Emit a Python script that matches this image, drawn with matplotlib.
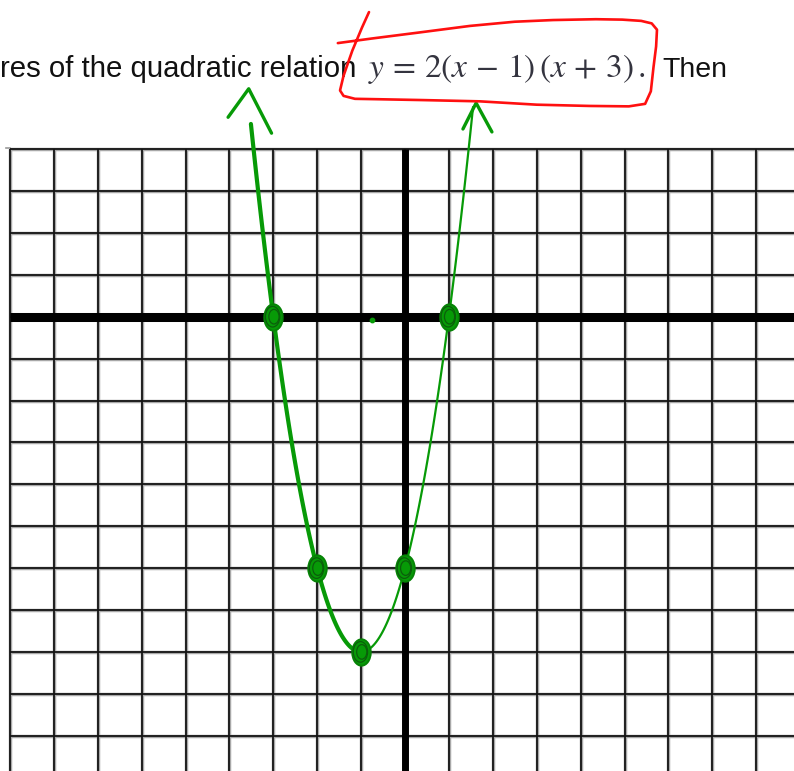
import numpy as np
import matplotlib
matplotlib.use('Agg')
import matplotlib.pyplot as plt
from matplotlib.path import Path
from matplotlib.transforms import Affine2D

plt.rcParams['mathtext.fontset'] = 'stix'

# grid extent, in graph units (one square = one unit)
grid_x = np.arange(-9, 9)
grid_y = np.arange(-10, 5)

# plotted table of values for y = 2(x - 1)(x + 3)
pts_x = [-3, -2, -1, 0, 1]
pts_y = [0, -6, -8, -6, 0]

# ends of the sketched curve (where the arrows start)
curve_left_end = -3.51
curve_right_end = 1.55

# arrow chevrons: (leg, tip, leg)
arrow_left = [(-4.03, 4.76), (-3.56, 5.44), (-3.04, 4.38)]
arrow_right = [(1.32, 4.48), (1.62, 5.10), (1.98, 4.41)]

# stray pen dot
stray_dot = (-0.75, -0.08)

# red pen loop round the equation
loop_x = [-1.53, -0.75, 0.30, 1.48, 2.50, 3.37, 4.35, 4.95, 5.38, 5.62, 5.74,
          5.72, 5.66, 5.60, 5.47, 5.10, 4.20, 3.00, 1.70, 0.40, -0.60, -1.14,
          -1.40, -1.48, -1.40, -1.20, -0.98, -0.82]
loop_y = [6.53, 6.64, 6.78, 6.94, 7.04, 7.08, 7.10, 7.09, 7.06, 7.00, 6.85,
          6.45, 5.95, 5.38, 5.08, 5.02, 5.03, 5.06, 5.14, 5.17, 5.19, 5.20,
          5.27, 5.40, 5.75, 6.35, 6.90, 7.27]

# page geometry
px_w, px_h = 794, 771
origin_px = (405, 316.7)
unit_px = (43.9, 41.9)

x_lo = -origin_px[0] / unit_px[0]
x_hi = (px_w - origin_px[0]) / unit_px[0]
y_lo = -(px_h - origin_px[1]) / unit_px[1]
y_hi = origin_px[1] / unit_px[1]

fig = plt.figure(figsize=(px_w / 100, px_h / 100), dpi=100)
ax = fig.add_axes([0, 0, 1, 1])
ax.set_xlim(x_lo, x_hi)
ax.set_ylim(y_lo, y_hi)
ax.axis('off')

grid_col = '#141414'
halo_col = '#a8a8a8'
top = grid_y[-1]

# grid squares
for gx in grid_x:
    ax.plot([gx, gx], [y_lo, top], color=halo_col, lw=2.5, solid_capstyle='butt', zorder=1)
    ax.plot([gx, gx], [y_lo, top], color=grid_col, lw=1.3, solid_capstyle='butt', zorder=2)
for gy in grid_y:
    ax.plot([grid_x[0], x_hi], [gy, gy], color=halo_col, lw=2.5, solid_capstyle='butt', zorder=1)
    ax.plot([grid_x[0], x_hi], [gy, gy], color=grid_col, lw=1.3, solid_capstyle='butt', zorder=2)
ax.plot([grid_x[0] - 0.1, grid_x[0]], [top + 0.03, top + 0.03], color='#999999', lw=1.2, zorder=1)

# axes
ax.plot([grid_x[0], x_hi], [0, 0], color='black', lw=6.5, solid_capstyle='butt', zorder=3)
ax.plot([0, 0], [y_lo, top], color='black', lw=5.0, solid_capstyle='butt', zorder=3)

# sketched parabola: heavy stroke on the left, light on the right
green = '#079a07'
xl = np.linspace(curve_left_end, -1, 80)
xr = np.linspace(-1, curve_right_end, 80)
ax.plot(xl, 2 * (xl - 1) * (xl + 3), color=green, lw=3.0,
        solid_capstyle='round', zorder=5)
ax.plot(xr, 2 * (xr - 1) * (xr + 3), color=green, lw=1.6,
        solid_capstyle='round', zorder=5)

for arrow in (arrow_left, arrow_right):
    ax.plot([p[0] for p in arrow], [p[1] for p in arrow], color=green, lw=2.4,
            solid_capstyle='round', solid_joinstyle='round', zorder=5)

# scribbled point blobs
blob = Path.unit_circle().transformed(Affine2D().scale(0.7, 1.0))
ax.scatter(pts_x, pts_y, marker=blob, s=360, facecolor=green,
           edgecolor='#068306', linewidths=1.4, zorder=6)
for k, s in enumerate((220, 110)):
    ax.scatter(np.array(pts_x) + 0.03 * (k - 0.5), pts_y, marker=blob, s=s,
               facecolor='none', edgecolor='#0b5e0b', linewidths=0.9, zorder=7)
ax.scatter([stray_dot[0]], [stray_dot[1]], s=10, color=green, zorder=6)

# heading text
base_y = (origin_px[1] - 77) / unit_px[1]
ax.text(-origin_px[0] / unit_px[0], base_y, 'res of the quadratic relation',
        family='Liberation Sans', fontsize=21.2, color='#111111',
        ha='left', va='baseline', zorder=8)
ax.text((368 - origin_px[0]) / unit_px[0], base_y,
        r'$y\,=\,2(x\,-\,1)\,(x\,+\,3)\,.$',
        fontsize=24, color='#34343f', ha='left', va='baseline', zorder=8)
ax.text((662 - origin_px[0]) / unit_px[0], base_y, 'Then',
        family='Liberation Sans', fontsize=20.5, color='#111111',
        ha='left', va='baseline', zorder=8)

# red pen loop
ax.plot(loop_x, loop_y, color='#ff1010', lw=1.9, solid_capstyle='round',
        solid_joinstyle='round', zorder=9)

fig.savefig('out.png', dpi=100)
